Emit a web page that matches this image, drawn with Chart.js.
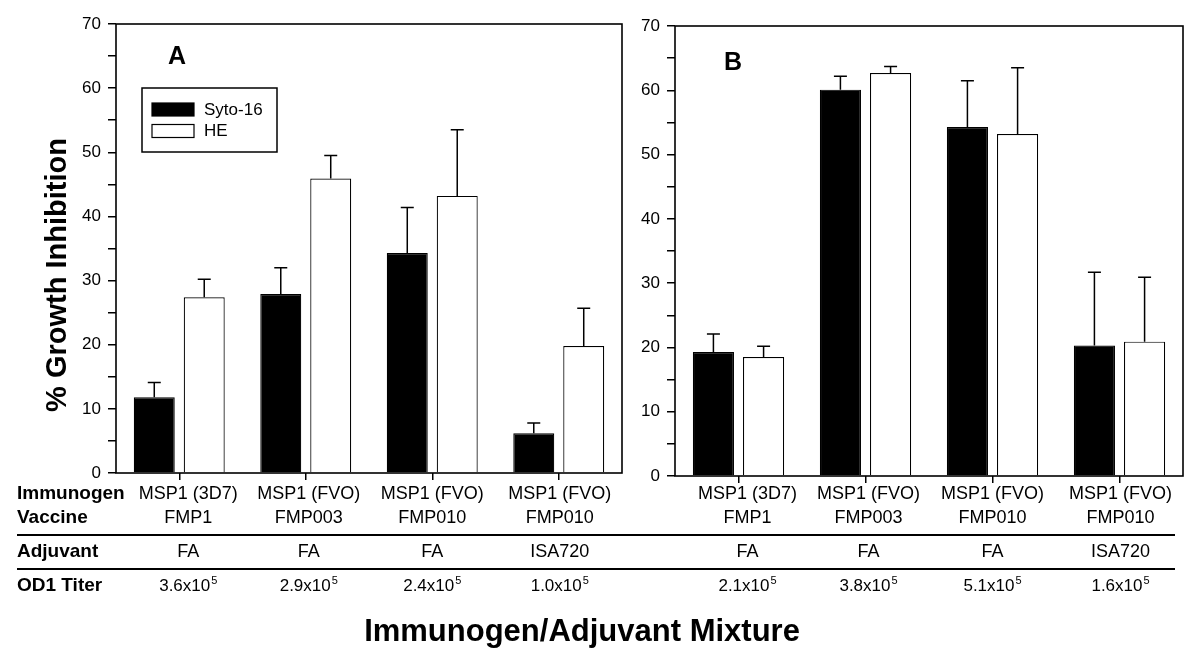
<!DOCTYPE html>
<html>
<head>
<meta charset="utf-8">
<script src="https://cdn.jsdelivr.net/npm/chart.js@4.4.1/dist/chart.umd.min.js"></script>
<style>
  body { margin: 0; background: #fff; }
  #wrap { position: relative; width: 1200px; height: 664px; }
  canvas { position: absolute; left: 0; top: 0; }
</style>
</head>
<body>
<div id="wrap">
  <canvas id="panelA" width="1200" height="664"></canvas>
  <canvas id="panelB" width="1200" height="664"></canvas>
</div>
<script>
// table / categories
const immunogens = ["MSP1 (3D7)", "MSP1 (FVO)", "MSP1 (FVO)", "MSP1 (FVO)"];
const vaccines = ["FMP1", "FMP003", "FMP010", "FMP010"];
const adjuvants = ["FA", "FA", "FA", "ISA720"];
const rowNames = ["Immunogen", "Vaccine", "Adjuvant", "OD1 Titer"];
const seriesNames = ["Syto-16", "HE"];

// panel A (mean and SD, % growth inhibition)
const sytoA = [11.8, 27.9, 34.3, 6.2];
const sytoSdA = [2.3, 4.1, 7.1, 1.6];
const heA = [27.4, 45.9, 43.2, 19.8];
const heSdA = [2.8, 3.6, 10.3, 5.9];
const titerA = ["3.6", "2.9", "2.4", "1.0"];   // x10^5

// panel B
const sytoB = [19.3, 60.1, 54.3, 20.3];
const sytoSdB = [2.8, 2.1, 7.2, 11.4];
const heB = [18.5, 62.7, 53.2, 20.9];
const heSdB = [1.7, 1.0, 10.3, 10.0];
const titerB = ["2.1", "3.8", "5.1", "1.6"];

// y axis ticks
const yMajor = [0, 10, 20, 30, 40, 50, 60, 70];
const yMinor = [5, 15, 25, 35, 45, 55, 65];

const FONT = "'Liberation Sans', Arial, Helvetica, sans-serif";
Chart.defaults.font.family = FONT;
Chart.defaults.color = "#000";

const colShift = [9, 3, 0, 1];
const rowY = [494, 518, 552, 586];

function drawTiter(ctx, base, x, y) {
  ctx.font = "17px " + FONT;
  const main = base + "x10";
  const w1 = ctx.measureText(main).width;
  ctx.font = "11px " + FONT;
  const w2 = ctx.measureText("5").width;
  const left = x - (w1 + w2 + 1) / 2;
  ctx.textAlign = "left";
  ctx.font = "17px " + FONT;
  ctx.fillText(main, left, y);
  ctx.font = "11px " + FONT;
  ctx.fillText("5", left + w1 + 1, y - 5);
}

function panelPlugin(letter, letterPos, titers, isFirst) {
  return {
    id: "panelExtras",
    afterDatasetsDraw(chart) {
      const { ctx, chartArea: a, scales: { x, y } } = chart;
      ctx.save();
      ctx.strokeStyle = "#000";
      ctx.fillStyle = "#000";

      // error bars (upper whisker only)
      ctx.lineWidth = 1.5;
      chart.data.datasets.forEach((ds, i) => {
        chart.getDatasetMeta(i).data.forEach((bar, j) => {
          const top = y.getPixelForValue(ds.data[j] + ds.sd[j]);
          ctx.beginPath();
          ctx.moveTo(bar.x, bar.y);
          ctx.lineTo(bar.x, top);
          ctx.moveTo(bar.x - 6.5, top);
          ctx.lineTo(bar.x + 6.5, top);
          ctx.stroke();
        });
      });

      // frame
      ctx.lineWidth = 1.6;
      ctx.strokeRect(a.left, a.top, a.width, a.height);

      // panel letter
      ctx.font = "bold 25px " + FONT;
      ctx.textAlign = "center";
      ctx.textBaseline = "middle";
      ctx.fillText(letter, letterPos[0], letterPos[1]);

      // table columns
      ctx.font = "18px " + FONT;
      chart.data.labels.forEach((lab, j) => {
        const cx = x.getPixelForValue(j) + colShift[j];
        ctx.font = "18px " + FONT;
        ctx.textAlign = "center";
        ctx.fillText(immunogens[j], cx, rowY[0]);
        ctx.fillText(vaccines[j], cx, rowY[1]);
        ctx.fillText(adjuvants[j], cx, rowY[2]);
        drawTiter(ctx, titers[j], cx, rowY[3]);
      });

      if (isFirst) {
        // legend
        ctx.lineWidth = 1.5;
        ctx.strokeRect(142, 88, 135, 64);
        chart.data.datasets.forEach((ds, i) => {
          const ty = 103 + i * 21.5;
          ctx.fillStyle = ds.backgroundColor;
          ctx.fillRect(152, ty, 42, 13);
          ctx.lineWidth = 1.2;
          ctx.strokeRect(152, ty, 42, 13);
          ctx.fillStyle = "#000";
          ctx.font = "17px " + FONT;
          ctx.textAlign = "left";
          ctx.fillText(ds.label, 204, ty + 7);
        });

        // row headers
        ctx.font = "bold 19px " + FONT;
        ctx.textAlign = "left";
        rowNames.forEach((r, i) => ctx.fillText(r, 17, rowY[i]));

        // table rules
        ctx.lineWidth = 2;
        [535, 569].forEach(ly => {
          ctx.beginPath();
          ctx.moveTo(17, ly);
          ctx.lineTo(1175, ly);
          ctx.stroke();
        });

        // axis titles
        ctx.font = "bold 31px " + FONT;
        ctx.textAlign = "center";
        ctx.fillText("Immunogen/Adjuvant Mixture", 582, 632);

        ctx.save();
        ctx.translate(58, 275);
        ctx.rotate(-Math.PI / 2);
        ctx.font = "bold 29px " + FONT;
        ctx.fillText("% Growth Inhibition", 0, 0);
        ctx.restore();
      }
      ctx.restore();
    }
  };
}

function makePanel(id, syto, sytoSd, he, heSd, pad, yWidth, xHeight, plugin) {
  return new Chart(document.getElementById(id), {
    type: "bar",
    data: {
      labels: vaccines,
      datasets: [
        { label: seriesNames[0], data: syto, sd: sytoSd, backgroundColor: "#000",
          borderColor: "#000", borderWidth: 1.2 },
        { label: seriesNames[1], data: he, sd: heSd, backgroundColor: "#fff",
          borderColor: "#000", borderWidth: 1.2 }
      ]
    },
    options: {
      responsive: false,
      animation: false,
      devicePixelRatio: 1,
      layout: { padding: pad },
      categoryPercentage: 0.79,
      barPercentage: 0.82,
      plugins: { legend: { display: false }, tooltip: { enabled: false } },
      scales: {
        x: {
          ticks: { display: false },
          grid: { offset: false, drawOnChartArea: false, tickLength: 7, color: "#000", lineWidth: 1.5 },
          border: { display: false },
          afterFit: s => { s.height = xHeight; }
        },
        y: {
          min: 0,
          max: 70,
          afterBuildTicks: s => {
            s.ticks = yMajor.concat(yMinor).sort((p, q) => p - q).map(v => ({ value: v }));
          },
          ticks: {
            autoSkip: false,
            padding: 7,
            font: { size: 17 },
            callback: v => (yMajor.includes(v) ? String(v) : "")
          },
          grid: { drawOnChartArea: false, tickLength: 8, color: "#000", lineWidth: 1.5 },
          border: { display: false },
          afterFit: s => { s.width = yWidth; }
        }
      }
    },
    plugins: [plugin]
  });
}

makePanel("panelA", sytoA, sytoSdA, heA, heSdA,
  { left: 0, top: 24, right: 578, bottom: 0 }, 116, 191,
  panelPlugin("A", [177, 57], titerA, true));

makePanel("panelB", sytoB, sytoSdB, heB, heSdB,
  { left: 615, top: 26, right: 17, bottom: 0 }, 60, 188,
  panelPlugin("B", [733, 63], titerB, false));
</script>
</body>
</html>
